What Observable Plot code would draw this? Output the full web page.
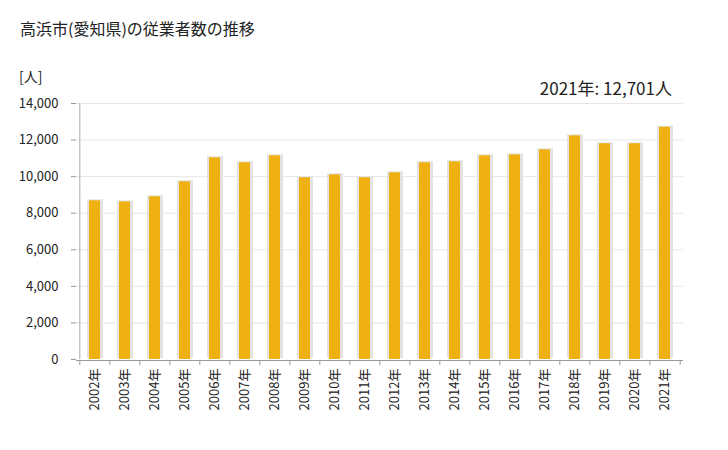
<!DOCTYPE html>
<html><head><meta charset="utf-8">
<script src="https://cdn.jsdelivr.net/npm/d3@7"></script>
<script src="https://cdn.jsdelivr.net/npm/@observablehq/plot@0.6"></script>
<style>
body{margin:0;background:#fff;font-family:"Noto Sans CJK JP",sans-serif;}
#wrap{position:relative;width:728px;height:450px;}
.t{position:absolute;color:#222;white-space:nowrap;}
</style></head>
<body><div id="wrap">
<div class="t" id="title" style="left:20px;top:16px;font-size:16px;"></div>
<div class="t" id="unit" style="left:19px;top:66px;font-size:14px;"></div>
<div class="t" id="note" style="right:56px;top:75px;font-size:17px;"></div>
</div>
<script>
const years = ["2002年","2003年","2004年","2005年","2006年","2007年","2008年","2009年","2010年","2011年","2012年","2013年","2014年","2015年","2016年","2017年","2018年","2019年","2020年","2021年"];
const workers = [8680,8620,8900,9720,11030,10760,11140,9940,10100,9940,10210,10760,10810,11140,11190,11470,12230,11800,11800,12701];
const yTicks = [0,2000,4000,6000,8000,10000,12000,14000];
const titleText = "高浜市(愛知県)の従業者数の推移";
const unitText = "[人]";
const noteText = "2021年: 12,701人";

document.getElementById("title").textContent = titleText;
document.getElementById("unit").textContent = unitText;
document.getElementById("note").textContent = noteText;

const data = years.map((y,i)=>({year:y, value:workers[i]}));
const step = (683-76)/years.length;
const chart = Plot.plot({
  width:728, height:450,
  marginLeft:76, marginRight:45, marginTop:103, marginBottom:91,
  style:{fontFamily:'"Noto Sans CJK JP",sans-serif', fontSize:"13px", color:"#333", background:"#fff"},
  x:{domain:years, paddingInner:0.637, paddingOuter:0.3185, axis:null, label:null},
  y:{domain:[0,14000], axis:null, label:null},
  marks:[
    Plot.gridY(yTicks.filter(d=>d>0), {stroke:"#e6e6e6", strokeOpacity:1}),
    Plot.barY(data, {x:"year", y:"value", fill:"#e3e3e3", insetLeft:-2, insetRight:-3, dy:-1}),
    Plot.barY(data, {x:"year", y:"value", fill:"#eeb111"}),
    Plot.axisY({ticks:yTicks, tickSize:5, tickPadding:13, stroke:"#999", fill:"#222", fontSize:13, label:null, tickFormat:d=>d3.format(",")(d)}),
    Plot.ruleX([0], {x:()=>years[0], dx:-step/2, stroke:"#aaa"}),
    Plot.ruleY([0], {stroke:"#999", dy:1}),
    Plot.axisX({ticks:years, tickSize:5, dx:-step/2, dy:1, stroke:"#999", label:null, tickFormat:()=>""}),
    Plot.axisX({ticks:[years[years.length-1]], tickSize:5, dx:step/2, dy:1, stroke:"#999", label:null, tickFormat:()=>""}),
    Plot.axisX({ticks:years, tickSize:0, tickPadding:9, tickRotate:-90, fill:"#222", fontSize:13, label:null})
  ]
});
document.getElementById("wrap").prepend(chart);
chart.style.position="absolute"; chart.style.left="0"; chart.style.top="0";
</script>
</body></html>
